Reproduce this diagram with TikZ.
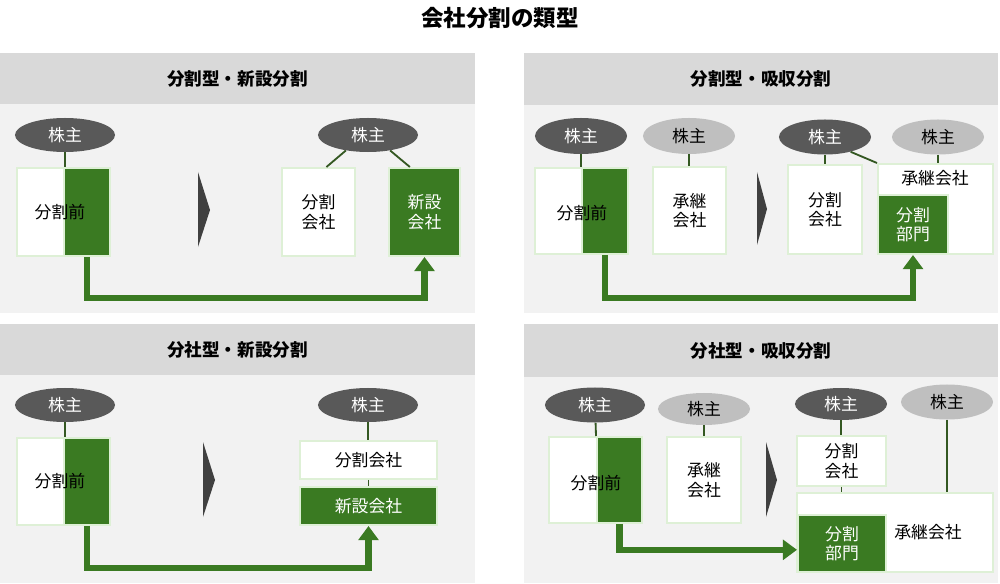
\documentclass[tikz,border=0pt]{standalone}
\usepackage{fontspec}
\setmainfont{Noto Sans CJK JP}
\usetikzlibrary{arrows.meta,shapes.geometric}
\definecolor{hdrgray}{RGB}{217,217,217}
\definecolor{bodygray}{RGB}{242,242,242}
\definecolor{bizgreen}{RGB}{58,122,34}
\definecolor{palegreen}{RGB}{222,240,214}
\definecolor{darkoval}{RGB}{89,89,89}
\definecolor{lightoval}{RGB}{191,191,191}
\definecolor{darrow}{RGB}{64,64,64}
\definecolor{linkgreen}{RGB}{52,88,34}
\begin{document}
\begin{tikzpicture}
[x=0.025cm,y=-0.025cm,
  headerdecorate/.style={shape=rectangle,fill=hdrgray,inner sep=0pt,font=\bfseries\fontsize{12.5}{15}\selectfont},%
  darkholder/.style={shape=ellipse,fill=darkoval,text=white,inner sep=0pt,minimum width=2.5cm,minimum height=0.85cm,font=\fontsize{12}{14}\selectfont},%
  lightholder/.style={darkholder,fill=lightoval,text=black},%
  firmdecorate/.style={shape=rectangle,draw=palegreen,line width=1.4pt,fill=white,inner sep=0pt,align=center,font=\fontsize{12}{14}\selectfont},%
  unitdecorate/.style={firmdecorate,fill=bizgreen,text=white},%
  textdecorate/.style={font=\fontsize{12}{14}\selectfont},%
  linkdecorate/.style={-,draw=linkgreen,line width=1.3pt},%
  flowdecorate/.style={draw=bizgreen,line width=4.3pt,-{Triangle[width=14pt,length=10pt]}}]
\useasboundingbox (0,0) rectangle (1000,584);
% title
\node [font=\bfseries\fontsize{16}{18}\selectfont] (title) at (500,18) {会社分割の類型};
% panel backgrounds
\fill [bodygray] (0,104) rectangle (475,313);
\fill [bodygray] (524,105) rectangle (998,313);
\fill [bodygray] (0,375) rectangle (475,583);
\fill [bodygray] (524,377) rectangle (998,583);
\node (hA) at (237.5,78.5) [headerdecorate,minimum width=11.875cm,minimum height=1.275cm] {分割型・新設分割};
\node (hB) at (761,79) [headerdecorate,minimum width=11.85cm,minimum height=1.3cm] {分割型・吸収分割};
\node (hC) at (237.5,349.5) [headerdecorate,minimum width=11.875cm,minimum height=1.275cm] {分社型・新設分割};
\node (hD) at (761,350.5) [headerdecorate,minimum width=11.85cm,minimum height=1.325cm] {分社型・吸収分割};
% transition marks
\fill [darrow] (198,172) -- (210,210) -- (198,247) -- cycle;
\fill [darrow] (757,172) -- (767,209) -- (757,245) -- cycle;
\fill [darrow] (203,442) -- (215,480) -- (203,517) -- cycle;
\fill [darrow] (766,442) -- (777,480) -- (766,517) -- cycle;
% nodes: 分割型・新設分割
\node (a0) at (65,135) [darkholder] {株主};
\node (a1) at (63.5,212) [firmdecorate,minimum width=2.325cm,minimum height=2.2cm] {};
\node (a1g) at (87,212) [unitdecorate,minimum width=1.15cm,minimum height=2.2cm] {};
\node [textdecorate] at (60,212) {分割前};
\node (a2) at (368,135) [darkholder] {株主};
\node (a3) at (318.5,212) [firmdecorate,minimum width=1.825cm,minimum height=2.2cm] {分割\\会社};
\node (a4) at (424.5,212) [unitdecorate,minimum width=1.775cm,minimum height=2.2cm] {新設\\会社};
% nodes: 分割型・吸収分割
\node (b0) at (581,136) [darkholder,minimum width=2.3cm,minimum height=0.9cm] {株主};
\node (b1) at (689,136) [lightholder,minimum width=2.3cm,minimum height=0.9cm] {株主};
\node (b2) at (825,137) [darkholder,minimum width=2.3cm,minimum height=0.875cm] {株主};
\node (b3) at (938,137) [lightholder,minimum width=2.3cm,minimum height=0.875cm] {株主};
\node (b4) at (581.5,211) [firmdecorate,minimum width=2.325cm,minimum height=2.15cm] {};
\node (b4g) at (605,211) [unitdecorate,minimum width=1.15cm,minimum height=2.15cm] {};
\node [textdecorate] at (582,213) {分割前};
\node (b5) at (689.5,210.5) [firmdecorate,minimum width=1.825cm,minimum height=2.175cm] {承継\\会社};
\node (b6) at (825,209.5) [firmdecorate,minimum width=1.85cm,minimum height=2.225cm] {分割\\会社};
\node (b7) at (935.5,209) [firmdecorate,minimum width=2.875cm,minimum height=2.25cm] {};
\node [textdecorate] at (935,178) {承継会社};
\node (b7g) at (913,224.5) [unitdecorate,minimum width=1.75cm,minimum height=1.475cm] {分割\\部門};
% nodes: 分社型・新設分割
\node (c0) at (65,405) [darkholder] {株主};
\node (c1) at (63.5,481.5) [firmdecorate,minimum width=2.325cm,minimum height=2.175cm] {};
\node (c1g) at (87,481.5) [unitdecorate,minimum width=1.15cm,minimum height=2.175cm] {};
\node [textdecorate] at (60,481) {分割前};
\node (c2) at (368,405) [darkholder] {株主};
\node (c3) at (368.5,460) [firmdecorate,minimum width=3.425cm,minimum height=0.95cm] {分割会社};
\node (c4) at (368.5,506) [unitdecorate,minimum width=3.425cm,minimum height=0.95cm] {新設会社};
% nodes: 分社型・吸収分割
\node (d0) at (595,405) [darkholder,minimum height=0.875cm] {株主};
\node (d1) at (704,409) [lightholder,minimum width=2.3cm,minimum height=0.8cm] {株主};
\node (d2) at (841,404) [darkholder,minimum width=2.3cm,minimum height=0.8cm] {株主};
\node (d3) at (947,402) [lightholder,minimum width=2.3cm,minimum height=0.875cm] {株主};
\node (d4) at (595.5,480) [firmdecorate,minimum width=2.325cm,minimum height=2.15cm] {};
\node (d4g) at (619.5,480) [unitdecorate,minimum width=1.125cm,minimum height=2.15cm] {};
\node [textdecorate] at (596,483) {分割前};
\node (d5) at (704,480) [firmdecorate,minimum width=1.85cm,minimum height=2.15cm] {承継\\会社};
\node (d6) at (841.5,461) [firmdecorate,minimum width=2.225cm,minimum height=1.25cm] {分割\\会社};
\node (d7) at (895,532.5) [firmdecorate,minimum width=4.9cm,minimum height=1.975cm] {};
\node [textdecorate] at (928,532) {承継会社};
\node (d7g) at (842,543.5) [unitdecorate,minimum width=2.2cm,minimum height=1.425cm] {分割\\部門};
% edges or lines
\path
(a0) edge[linkdecorate] (a0 |- a1.north)
(a2.215) edge[linkdecorate] (a3.80)
(a2.325) edge[linkdecorate] (a4.108)
(b0) edge[linkdecorate] (b0 |- b4.north)
(b1) edge[linkdecorate] (b1 |- b5.north)
(b2) edge[linkdecorate] (b2 |- b6.north)
(b2.330) edge[linkdecorate] (b7.north west)
(b3) edge[linkdecorate] (b3 |- b7.north)
(c0) edge[linkdecorate] (c0 |- c1.north)
(c2) edge[linkdecorate] (c2 |- c3.north)
(c3.south) edge[linkdecorate] (c4.north)
(d0) edge[linkdecorate] (d4g.north west)
(d1) edge[linkdecorate] (d1 |- d5.north)
(d2) edge[linkdecorate] (d2 |- d6.north)
(d6.south) edge[linkdecorate] (d6.south |- d7.north)
(d3) edge[linkdecorate] (d3 |- d7.north);
% transfers
\draw [flowdecorate] (a1g.south) -- ++(0,41) -| (a4.south);
\draw [flowdecorate] (b4g.south) -- ++(0,43) -| (b7g.south);
\draw [flowdecorate] (c1g.south) -- ++(0,42) -| (c4.south);
\draw [flowdecorate] (d4g.south) |- (d7g.188);
\end{tikzpicture}
\end{document}
